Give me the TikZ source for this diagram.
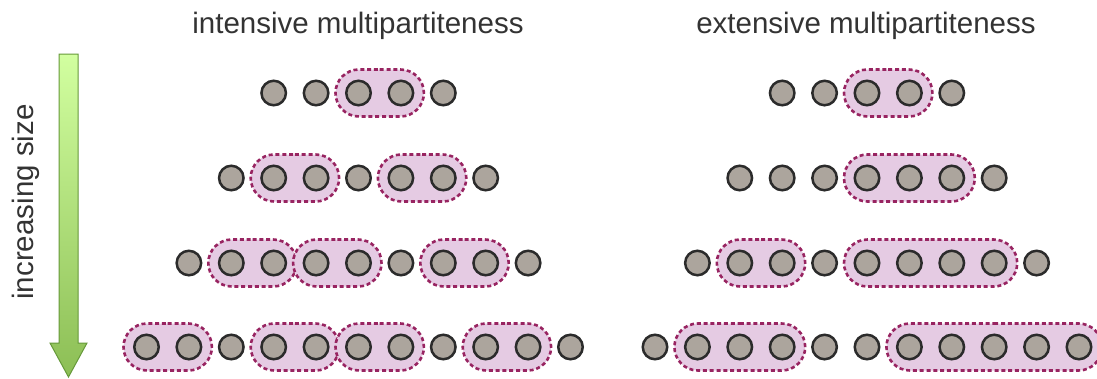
\documentclass[tikz,border=0pt]{standalone}
\usepackage{fontspec}
\setmainfont{Liberation Sans}
\usetikzlibrary{calc,backgrounds,shapes.misc}
\definecolor{txt}{HTML}{333333}
\definecolor{ballfill}{HTML}{ACA59D}
\definecolor{ballline}{HTML}{2B2B2B}
\definecolor{grpfill}{HTML}{E5CBE3}
\definecolor{grpline}{HTML}{982461}
\definecolor{arrtop}{HTML}{D2FFA0}
\definecolor{arrbot}{HTML}{8CBE55}
\definecolor{arrline}{HTML}{66993A}
\tikzset{
  ball/.style={circle,draw=ballline,fill=ballfill,line width=2.5pt,minimum size=24.5pt,inner sep=0pt},
  grp/.style={shape=rounded rectangle,draw=grpline,fill=grpfill,line width=2.6pt,dash pattern=on 4pt off 2.8pt,minimum height=47pt,inner sep=0pt},
  ttl/.style={text=txt,font=\fontsize{29.5}{35}\selectfont,inner sep=0pt},
  bigarrow/.style={draw=arrline,line width=1pt,top color=arrtop,bottom color=arrbot}
}
\newcommand\grpnode[4]{% name, first circle, last circle, number of circles
  \node[grp,minimum width={(#4-1)*42.4+46}] (#1) at ($(#2)!0.5!(#3)$) {};}
\begin{document}
\begin{tikzpicture}[x=1pt,y=-1pt]
\useasboundingbox (0,0) rectangle (1097,378);
% titles
\node[ttl,anchor=base] (t1) at (358,33) {intensive multipartiteness};
\node[ttl,anchor=base] (t2) at (866,33) {extensive multipartiteness};
% arrow
\shade[bigarrow] (59,54) -- (78,54) -- (78,343) -- (87,343) -- (68.5,377) -- (50,343) -- (59,343) -- cycle;
\node[ttl,rotate=90,anchor=base] (lbl) at (33,202) {increasing size};
% rows: intensive (prefix i), extensive (prefix e)
\def\dx{42.4}
\foreach \r/\y/\n in {1/93/2,2/178/3,3/263/4,4/347/5}{
  \foreach \k in {-\n,...,\n}{
    \node[ball] (i\r_\k) at (358.5+\k*\dx,\y) {};
    \node[ball] (e\r_\k) at (867+\k*\dx,\y) {};
  }
}
\begin{scope}[on background layer]
% intensive groups
\grpnode{gi1a}{i1_0}{i1_1}{2}
\grpnode{gi2a}{i2_-2}{i2_-1}{2}
\grpnode{gi2b}{i2_1}{i2_2}{2}
\grpnode{gi3a}{i3_-3}{i3_-2}{2}
\grpnode{gi3b}{i3_-1}{i3_0}{2}
\grpnode{gi3c}{i3_2}{i3_3}{2}
\grpnode{gi4a}{i4_-5}{i4_-4}{2}
\grpnode{gi4b}{i4_-2}{i4_-1}{2}
\grpnode{gi4c}{i4_0}{i4_1}{2}
\grpnode{gi4d}{i4_3}{i4_4}{2}
% extensive groups
\grpnode{ge1a}{e1_0}{e1_1}{2}
\grpnode{ge2a}{e2_0}{e2_2}{3}
\grpnode{ge3a}{e3_-3}{e3_-2}{2}
\grpnode{ge3b}{e3_0}{e3_3}{4}
\grpnode{ge4a}{e4_-4}{e4_-2}{3}
\grpnode{ge4b}{e4_1}{e4_5}{5}
\end{scope}
\end{tikzpicture}
\end{document}
